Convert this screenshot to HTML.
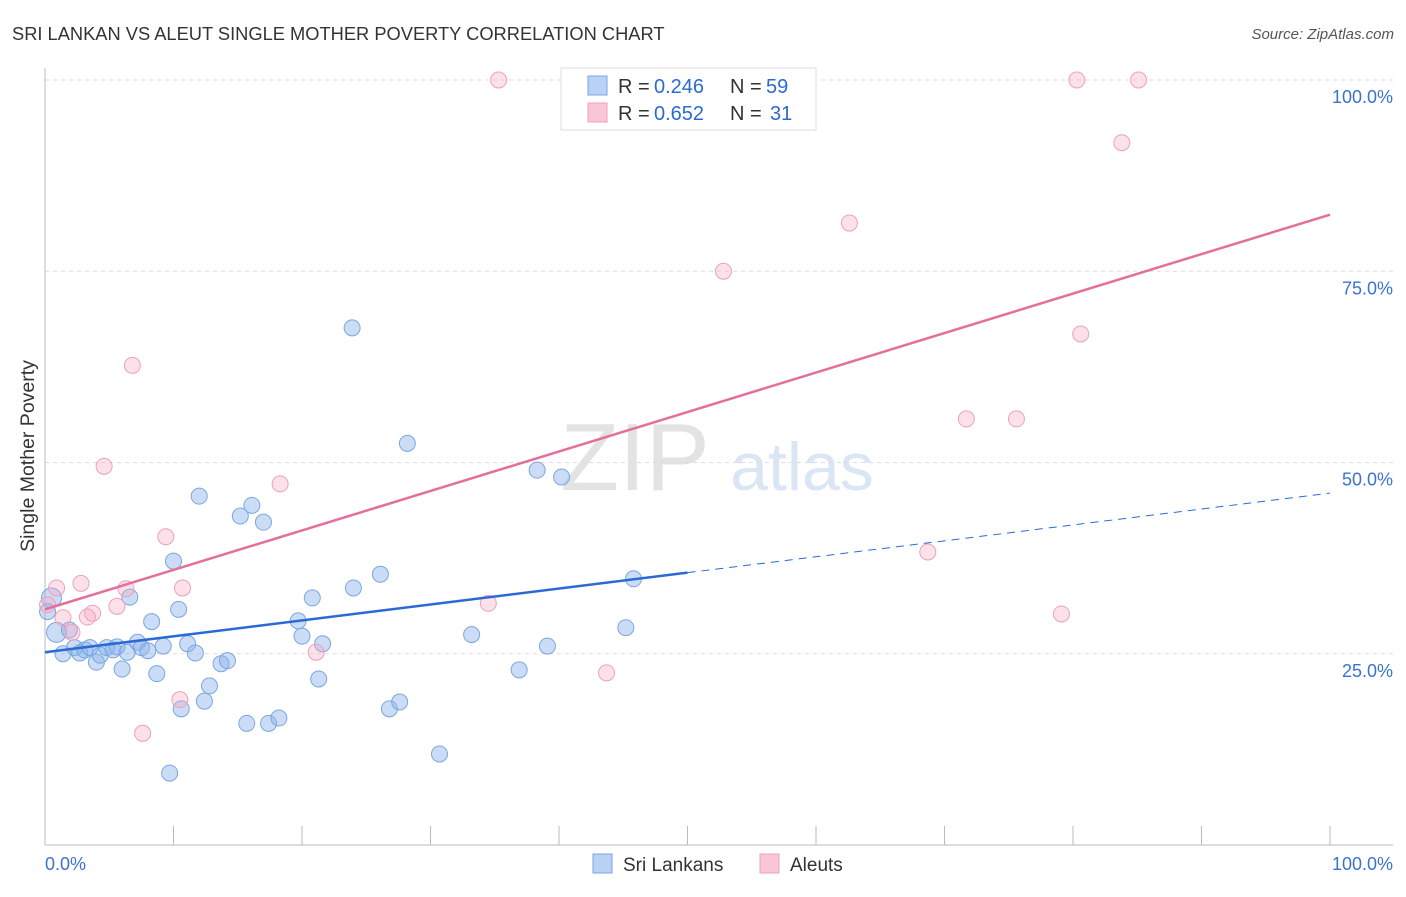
<!DOCTYPE html>
<html><head><meta charset="utf-8"><style>
body{margin:0;background:#fff;font-family:"Liberation Sans",sans-serif}
svg text{font-family:"Liberation Sans",sans-serif}
</style></head><body>
<svg id="c" width="1406" height="892" xmlns="http://www.w3.org/2000/svg">
<text x="12" y="40" font-size="18.3" fill="#333">SRI LANKAN VS ALEUT SINGLE MOTHER POVERTY CORRELATION CHART</text>
<text x="1394" y="39" font-size="15" fill="#555" font-style="italic" text-anchor="end">Source: ZipAtlas.com</text>
<text x="635" y="490" font-size="96" fill="#e3e3e3" font-family="Liberation Serif" text-anchor="middle">ZIP</text>
<text x="802" y="490" font-size="68" fill="#dbe6f5" text-anchor="middle">atlas</text>
<text transform="translate(34,456) rotate(-90)" font-size="19.5" fill="#333" text-anchor="middle">Single Mother Poverty</text>
<g id="grid"></g><g id="pts"></g><g id="lines"></g>
<g>
<rect x="561" y="68" width="255" height="62" fill="#fff" stroke="#ddd"/>
<rect x="588" y="76" width="19" height="19" fill="#b8d3f5" stroke="#7aa6e0"/>
<rect x="588" y="103" width="19" height="19" fill="#f9c6d6" stroke="#eea0b8"/>
<text y="93" font-size="20" fill="#333"><tspan x="618">R =</tspan><tspan x="654" fill="#2a6ad4">0.246</tspan><tspan x="730">N =</tspan><tspan x="766" fill="#2a6ad4">59</tspan></text>
<text y="120" font-size="20" fill="#333"><tspan x="618">R =</tspan><tspan x="654" fill="#2a6ad4">0.652</tspan><tspan x="730">N =</tspan><tspan x="770" fill="#2a6ad4">31</tspan></text>
</g>
<g>
<rect x="593" y="854" width="19" height="19" fill="#b8d3f5" stroke="#7aa6e0"/>
<text x="623" y="871" font-size="19" fill="#333">Sri Lankans</text>
<rect x="760" y="854" width="19" height="19" fill="#f9c6d6" stroke="#eea0b8"/>
<text x="790" y="871" font-size="19" fill="#333">Aleuts</text>
</g>
</svg>
<script>
const yTicks=[25,50,75,100];
const yTickLabels=["25.0%","50.0%","75.0%","100.0%"];
const xTicks=[0,10,20,30,40,50,60,70,80,90,100];
const blueX=[0.5,0.9,1.4,1.9,2.3,2.7,3.1,3.5,4.0,4.3,4.8,5.3,5.6,6.0,6.4,6.6,7.2,7.5,8.0,8.3,8.7,9.2,10.0,10.4,10.6,11.1,11.7,12.0,12.4,12.8,13.7,14.2,15.2,15.7,16.1,17.0,17.4,18.2,19.7,20.0,20.8,21.3,21.6,23.9,24.0,26.1,26.8,27.6,28.2,30.7,33.2,36.9,38.3,39.1,40.2,45.2,45.8,9.7,0.2];
const blueY=[32.3,27.8,25.0,28.1,25.8,25.1,25.5,25.8,23.9,24.8,25.8,25.5,25.9,23.0,25.2,32.4,26.5,25.8,25.4,29.2,22.4,26.0,37.1,30.8,17.8,26.3,25.1,45.6,18.8,20.8,23.7,24.1,43.0,15.9,44.4,42.2,15.9,16.6,29.3,27.3,32.3,21.7,26.3,67.6,33.6,35.4,17.8,18.7,52.5,11.9,27.5,22.9,49.0,26.0,48.1,28.4,34.8,9.4,30.5];
const pinkX=[35.3,80.3,85.1,83.8,62.6,52.8,80.6,71.7,75.6,6.8,4.6,18.3,9.4,68.7,79.1,34.5,10.7,6.3,2.8,0.9,1.4,3.7,3.3,5.6,2.1,21.1,43.7,10.5,7.6,0.2];
const pinkY=[100,100,100,91.8,81.3,75.0,66.8,55.7,55.7,62.7,49.5,47.2,40.3,38.3,30.2,31.6,33.6,33.5,34.2,33.6,29.7,30.3,29.8,31.2,27.8,25.2,22.5,19.0,14.6,31.4];
const blueTrend=[25.2,46.0], blueSolidEnd=50;
const pinkTrend=[30.8,82.4];
const NS="http://www.w3.org/2000/svg";
const X=v=>45+v*12.85, Y=v=>845-v*7.65;
function mk(t,a,p){const e=document.createElementNS(NS,t);for(const k in a)e.setAttribute(k,a[k]);p.appendChild(e);return e;}
const g=document.getElementById('grid'),svg=document.getElementById('c');
yTicks.forEach((t,i)=>{
 const l=mk('line',{x1:45,x2:1393,y1:Y(t),y2:Y(t),stroke:'#ddd','stroke-dasharray':'4,4'},g);
 
 
 const tx=mk('text',{x:1393,y:Y(t)+23,'font-size':18,fill:'#3a72d0','text-anchor':'end'},g);
 tx.textContent=yTickLabels[i];
 
 
});
const ax=mk('line',{x1:45,x2:1393,y1:845,y2:845,stroke:'#bbb'},g);


const ay=mk('line',{x1:45,x2:45,y1:68,y2:845,stroke:'#bbb'},g);


xTicks.forEach(t=>{const l=mk('line',{x1:X(t),x2:X(t),y1:826,y2:845,stroke:'#bbb'},g);
 
 });
[[0,'0.0%','start',45],[100,'100.0%','end',1393]].forEach(a=>{const t=mk('text',{x:a[3],y:870,'font-size':18,fill:'#3a72d0','text-anchor':a[2]},g);t.textContent=a[1];
 
 });
const p=document.getElementById('pts');
blueX.forEach((x,i)=>{const c=mk('circle',{cx:X(x),cy:Y(blueY[i]),r:i<2?10:8,fill:'rgba(140,180,235,0.45)',stroke:'#7aa6e0','stroke-width':1},p);
 
 });
pinkX.forEach((x,i)=>{const c=mk('circle',{cx:X(x),cy:Y(pinkY[i]),r:8,fill:'rgba(245,170,195,0.35)',stroke:'#eea0b8','stroke-width':1},p);
 
 });
const L=document.getElementById('lines');
const bm=blueTrend[0]+(blueTrend[1]-blueTrend[0])*blueSolidEnd/100;
let l1=mk('line',{x1:X(0),y1:Y(blueTrend[0]),x2:X(blueSolidEnd),y2:Y(bm),stroke:'#2a6ad4','stroke-width':2.5},L);


let l2=mk('line',{x1:X(blueSolidEnd),y1:Y(bm),x2:X(100),y2:Y(blueTrend[1]),stroke:'#2a6ad4','stroke-width':1,'stroke-dasharray':'8,6'},L);


let l3=mk('line',{x1:X(0),y1:Y(pinkTrend[0]),x2:X(100),y2:Y(pinkTrend[1]),stroke:'#e4709a','stroke-width':2.5},L);


</script>
</body></html>
